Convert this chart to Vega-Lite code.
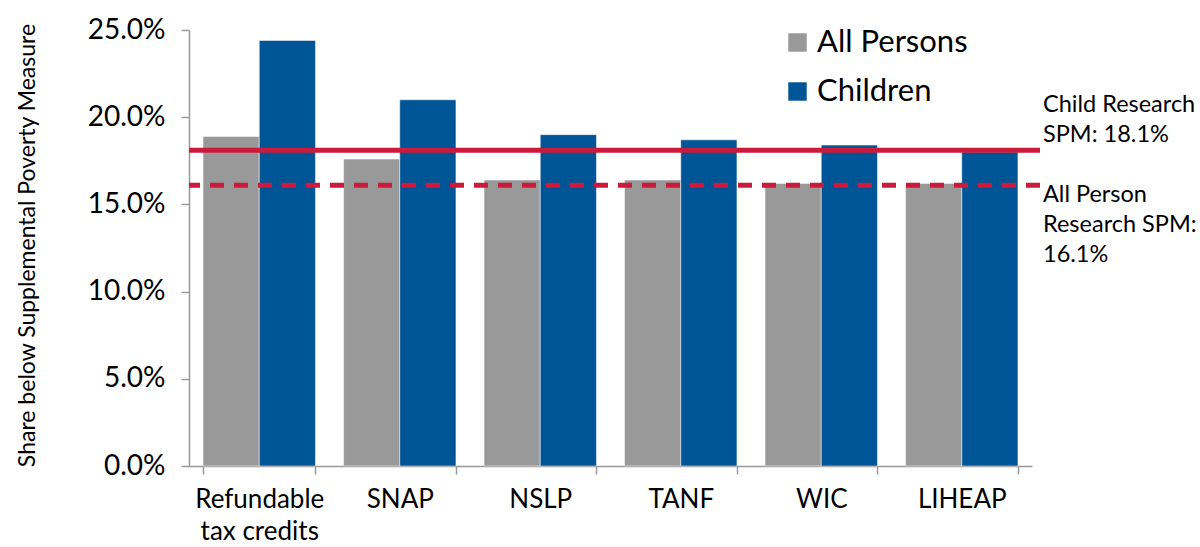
{
  "$schema": "https://vega.github.io/schema/vega-lite/v6.json",
  "autosize": {"type": "none"},
  "padding": {"left": 189, "top": 30, "right": 160, "bottom": 81},
  "width": 851,
  "height": 436,
  "background": "white",
  "config": {
    "view": {"stroke": null},
    "font": "Lato",
    "text": {"font": "Lato"}
  },
  "encoding": {
    "y": {
      "field": "value",
      "type": "quantitative",
      "scale": {"domain": [0, 0.25], "nice": false, "zero": true},
      "axis": {
        "title": "Share below Supplemental Poverty Measure",
        "titleFont": "Lato",
        "titleFontSize": 23,
        "titleFontWeight": "normal",
        "titleColor": "#000000",
        "titleX": -150,
        "titleY": 215,
        "format": ".1%",
        "values": [0, 0.05, 0.1, 0.15, 0.2, 0.25],
        "labelFont": "Lato",
        "labelFontSize": 28,
        "labelColor": "#000000",
        "labelPadding": 16,
        "tickSize": 8,
        "tickColor": "#999999",
        "domainColor": "#999999",
        "tickWidth": 1.5,
        "domainWidth": 1.5,
        "grid": false
      }
    }
  },
  "layer": [
    {
      "data": {
        "values": [
          {"program": "Refundable tax credits", "group": "All Persons", "value": 0.189},
          {"program": "Refundable tax credits", "group": "Children", "value": 0.244},
          {"program": "SNAP", "group": "All Persons", "value": 0.176},
          {"program": "SNAP", "group": "Children", "value": 0.210},
          {"program": "NSLP", "group": "All Persons", "value": 0.164},
          {"program": "NSLP", "group": "Children", "value": 0.190},
          {"program": "TANF", "group": "All Persons", "value": 0.164},
          {"program": "TANF", "group": "Children", "value": 0.187},
          {"program": "WIC", "group": "All Persons", "value": 0.162},
          {"program": "WIC", "group": "Children", "value": 0.184},
          {"program": "LIHEAP", "group": "All Persons", "value": 0.162},
          {"program": "LIHEAP", "group": "Children", "value": 0.180}
        ]
      },
      "mark": {"type": "bar", "stroke": "white", "strokeWidth": 0.5},
      "encoding": {
        "x": {
          "field": "program",
          "type": "nominal",
          "sort": ["Refundable tax credits", "SNAP", "NSLP", "TANF", "WIC", "LIHEAP"],
          "scale": {"range": [0, 843], "paddingInner": 0.2, "paddingOuter": 0.1},
          "axis": {
            "title": null,
            "labelAngle": 0,
            "labelFont": "Lato",
            "labelFontSize": 26,
            "labelColor": "#000000",
            "labelLineHeight": 32,
            "labelPadding": 12,
            "labelExpr": "datum.label == 'Refundable tax credits' ? ['Refundable', 'tax credits'] : datum.label",
            "tickBand": "extent",
            "tickSize": 8,
            "tickColor": "#999999",
            "domainColor": "#999999",
            "tickWidth": 1.5,
            "domainWidth": 1.5
          }
        },
        "xOffset": {"field": "group", "type": "nominal", "sort": ["All Persons", "Children"]},
        "color": {
          "field": "group",
          "type": "nominal",
          "scale": {"domain": ["All Persons", "Children"], "range": ["#999999", "#005596"]},
          "legend": {
            "title": null,
            "orient": "none",
            "legendX": 593,
            "legendY": -3,
            "padding": 0,
            "symbolType": "square",
            "symbolSize": 340,
            "symbolStrokeWidth": 0,
            "labelFont": "Lato",
            "labelFontSize": 31,
            "labelColor": "#000000",
            "labelOffset": 4,
            "rowPadding": 17
          }
        }
      }
    },
    {
      "data": {"values": [{"label": "Child Research SPM", "value": 0.181}]},
      "mark": {"type": "rule", "color": "#cc1a3c", "strokeWidth": 5},
      "encoding": {}
    },
    {
      "data": {"values": [{"label": "All Person Research SPM", "value": 0.161}]},
      "mark": {"type": "rule", "color": "#cc1a3c", "strokeWidth": 5, "strokeDash": [14, 10]},
      "encoding": {}
    },
    {
      "data": {"values": [{"note": "Child Research\nSPM: 18.1%", "value": 0.181}]},
      "mark": {"type": "text", "align": "left", "baseline": "alphabetic", "lineBreak": "\n", "lineHeight": 30, "fontSize": 23.5, "font": "Lato", "color": "#000000", "x": {"expr": "width + 3"}, "dy": -38},
      "encoding": {"text": {"field": "note"}}
    },
    {
      "data": {"values": [{"note": "All Person\nResearch SPM:\n16.1%", "value": 0.161}]},
      "mark": {"type": "text", "align": "left", "baseline": "alphabetic", "lineBreak": "\n", "lineHeight": 30, "fontSize": 23.5, "font": "Lato", "color": "#000000", "x": {"expr": "width + 3"}, "dy": 17},
      "encoding": {"text": {"field": "note"}}
    }
  ]
}
